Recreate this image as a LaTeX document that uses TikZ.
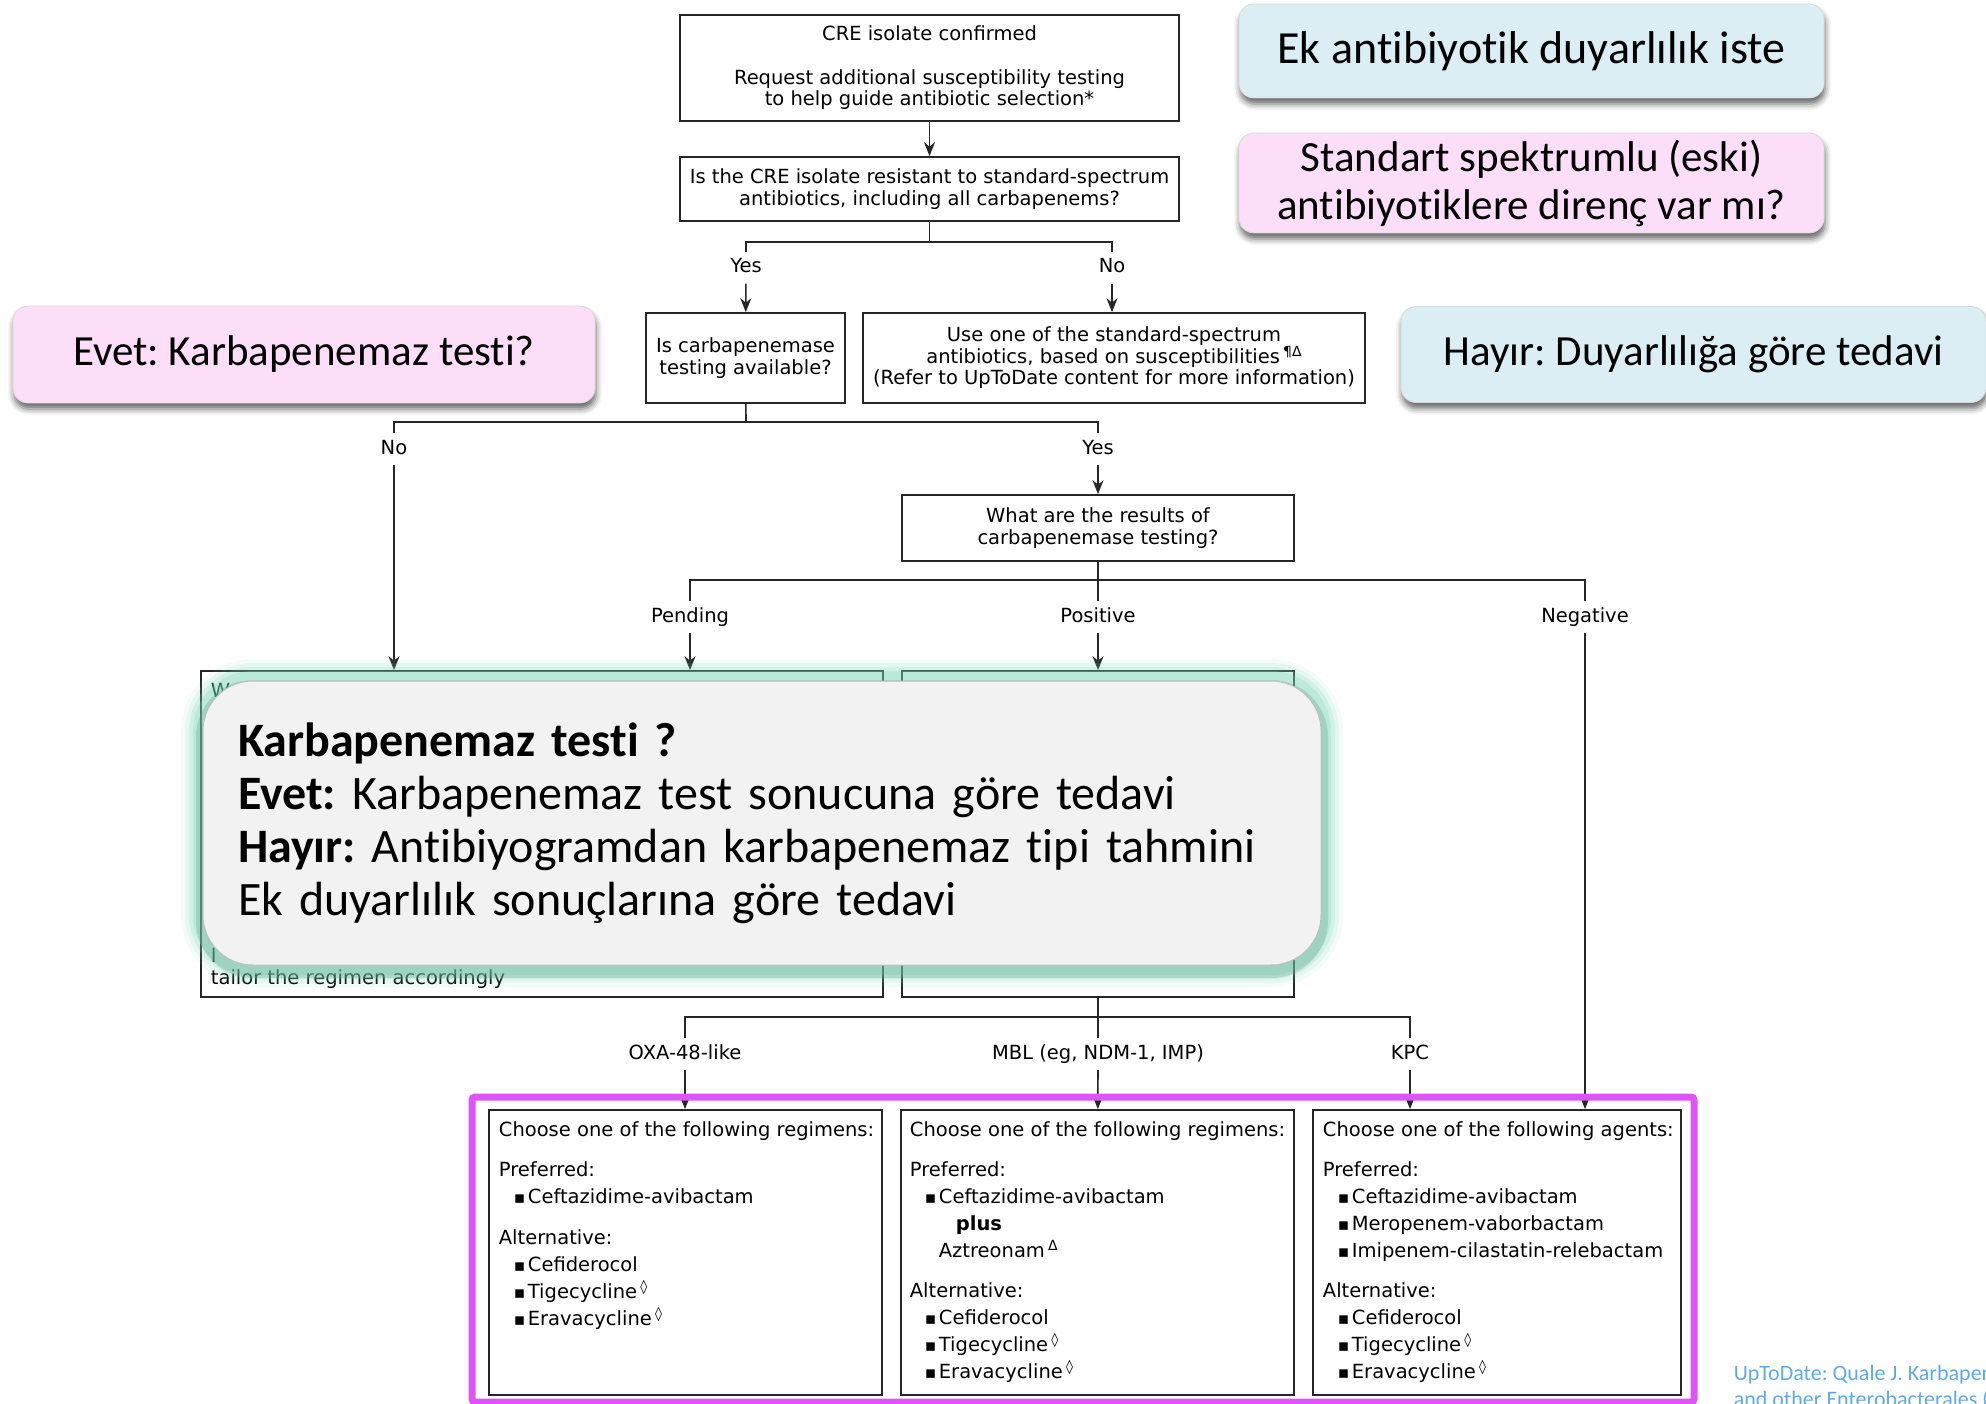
\documentclass[tikz,border=0pt]{standalone}
\usepackage{fontspec}
\setmainfont{DejaVu Sans}
\newfontfamily\calfont{Carlito}[Ligatures={NoCommon}]
\usetikzlibrary{arrows.meta,positioning,shadows.blur}
\definecolor{magline}{RGB}{222,84,250}
\definecolor{cblue}{RGB}{218,238,243}
\definecolor{cpink}{RGB}{253,222,248}
\definecolor{sumfill}{RGB}{242,242,242}
\definecolor{glowc}{RGB}{120,212,182}
\definecolor{footc}{RGB}{93,170,230}
\newcommand{\itm}[1]{\hspace*{15pt}\makebox[14pt][l]{\fontsize{17}{17}\selectfont▪}#1}
\newcommand{\upmark}[1]{\,\raisebox{7pt}{\fontsize{14}{14}\selectfont #1}}
\frenchspacing
\tikzset{every picture/.style={line width=1.5pt},
  fbox/.style={draw=black!85, line width=1.7pt, align=center, inner sep=0pt, font=\fontsize{19.5}{21.5}\selectfont},
  lbl/.style={inner sep=6pt, text height=14pt, text depth=4pt, font=\fontsize{19.5}{21}\selectfont},
  ln/.style={draw=black!85, line width=1.6pt},
  arr/.style={ln, -{Stealth[length=14pt, width=11pt]}},
  listtxt/.style={align=left, inner sep=0pt, font=\fontsize{19.5}{27}\selectfont},
  callout/.style={rounded corners=15pt, draw=black!15, line width=0.8pt, align=center, inner sep=0pt,
    blur shadow={shadow xshift=1pt, shadow yshift=-6pt, shadow blur radius=6pt, shadow opacity=60},
    font=\calfont\fontsize{43}{48}\selectfont},
  glowbox/.style={fill=sumfill, draw=black!25, line width=1pt, rounded corners=50pt,
    preaction={draw=glowc, line width=44pt, opacity=0.08},
    preaction={draw=glowc, line width=36pt, opacity=0.12},
    preaction={draw=glowc, line width=28pt, opacity=0.18},
    preaction={draw=glowc, line width=20pt, opacity=0.25},
    preaction={draw=glowc!75!black, line width=14pt, opacity=0.3, transform canvas={yshift=-6pt}}},
  foot/.style={align=left, inner sep=0pt, text=footc, font=\calfont\fontsize{22}{26}\selectfont}}

\begin{document}
\begin{tikzpicture}[x=1pt, y=-1pt]
    \useasboundingbox (0,0) rectangle (1986,1404);

    % 顶部流程框
    \node[fbox, minimum width=499pt, minimum height=106pt] (cre) at (929.5,68) {CRE isolate confirmed\\[22pt]Request additional susceptibility testing\\to help guide antibiotic selection*};
    \node[fbox, minimum width=499pt, minimum height=64pt] (resist) at (929.5,189) {Is the CRE isolate resistant to standard-spectrum\\antibiotics, including all carbapenems?};
    \draw[arr] (cre) -- (resist);

    % 是否耐药
    \coordinate (rj) at (929.5,242);
    \node[lbl] (yes1) at (746,268) {Yes};
    \node[lbl] (no1) at (1112,268) {No};
    \draw[ln] (resist) -- (rj);
    \draw[ln] (yes1) |- (rj) -| (no1);

    \node[fbox, minimum width=199pt, minimum height=90pt] (carb) at (745.5,358) {Is carbapenemase\\testing available?};
    \node[fbox, minimum width=502pt, minimum height=90pt] (use) at (1114,358) {Use one of the standard-spectrum\\antibiotics, based on susceptibilities\upmark{¶Δ}\\(Refer to UpToDate content for more information)};
    \draw[arr] (yes1) -- (carb);
    \draw[arr] (no1) -- (no1 |- use.north);

    % 碳青霉烯酶检测
    \coordinate (cj) at (746,422);
    \node[lbl] (no2) at (394,449) {No};
    \node[lbl] (yes2) at (1098,449) {Yes};
    \draw[ln] (carb) -- (cj);
    \draw[ln] (no2) |- (cj) -| (yes2);

    \node[fbox, minimum width=392pt, minimum height=66pt] (results) at (1098,528) {What are the results of\\carbapenemase testing?};
    \draw[arr] (yes2) -- (results);

    \coordinate (rsj) at (1098,580);
    \node[lbl] (pend) at (690,617) {Pending};
    \node[lbl] (pos) at (1098,617) {Positive};
    \node[lbl] (neg) at (1585,617) {Negative};
    \draw[ln] (results) -- (rsj);
    \draw[ln] (pend) |- (rsj) -| (neg);
    \draw[ln] (rsj) -- (pos);

    % 被遮住的方框
    \node[fbox, minimum width=682pt, minimum height=326pt] (lbox) at (542,834) {};
    \node[fbox, minimum width=392pt, minimum height=326pt] (mbox) at (1098,834) {};
    \node[listtxt, font=\fontsize{19.5}{22}\selectfont, below right=12pt and 10pt of lbox.north west] (lw) {W};
    \node[listtxt, font=\fontsize{19.5}{22}\selectfont, above right=9pt and 10pt of lbox.south west] (ltail) {I\\tailor the regimen accordingly};
    \draw[arr] (no2) -- (no2 |- lbox.north);
    \draw[arr] (pend) -- (pend |- lbox.north);
    \draw[arr] (pos) -- (mbox);

    % 酶的类型
    \coordinate (mj) at (1098,1017);
    \node[lbl] (oxa) at (685,1054) {OXA-48-like};
    \node[lbl] (mbl) at (1098,1054) {MBL (eg, NDM-1, IMP)};
    \node[lbl] (kpc) at (1410,1054) {KPC};
    \draw[ln] (mbox) -- (mj);
    \draw[ln] (oxa) |- (mj) -| (kpc);
    \draw[ln] (mj) -- (mbl);

    % 治疗方案
    \node[fbox, minimum width=393pt, minimum height=285pt] (oxabox) at (685.5,1252.5) {};
    \node[fbox, minimum width=393pt, minimum height=285pt] (mblbox) at (1097.5,1252.5) {};
    \node[fbox, minimum width=368pt, minimum height=285pt] (kpcbox) at (1497,1252.5) {};
    \node[listtxt, below right=12pt and 10pt of oxabox.north west] (oxatxt) {Choose one of the following regimens:\\[13pt]Preferred:\\\itm{Ceftazidime-avibactam}\\[14pt]Alternative:\\\itm{Cefiderocol}\\\itm{Tigecycline\upmark{◊}}\\\itm{Eravacycline\upmark{◊}}};
    \node[listtxt, below right=12pt and 9pt of mblbox.north west] (mbltxt) {Choose one of the following regimens:\\[13pt]Preferred:\\\itm{Ceftazidime-avibactam}\\\hspace*{46pt}\textbf{plus}\\\hspace*{29pt}Aztreonam\upmark{Δ}\\[13pt]Alternative:\\\itm{Cefiderocol}\\\itm{Tigecycline\upmark{◊}}\\\itm{Eravacycline\upmark{◊}}};
    \node[listtxt, below right=12pt and 10pt of kpcbox.north west] (kpctxt) {Choose one of the following agents:\\[13pt]Preferred:\\\itm{Ceftazidime-avibactam}\\\itm{Meropenem-vaborbactam}\\\itm{Imipenem-cilastatin-relebactam}\\[13pt]Alternative:\\\itm{Cefiderocol}\\\itm{Tigecycline\upmark{◊}}\\\itm{Eravacycline\upmark{◊}}};
    \draw[arr] (oxa) -- (oxa |- oxabox.north);
    \draw[arr] (mbl) -- (mblbox);
    \draw[arr] (kpc) -- (kpc |- kpcbox.north);
    \draw[arr] (neg) -- (neg |- kpcbox.north);
    \draw[magline, line width=7pt, rounded corners=3pt] (472,1097) rectangle (1694,1402);

    % 中间的说明框
    \node[glowbox, minimum width=1118pt, minimum height=284pt, text width=1048pt, align=left, inner xsep=35pt,
          font=\calfont\fontsize{48}{53}\selectfont] (summary) at (762,823)
        {\textbf{Karbapenemaz testi ?}\\\textbf{Evet:} Karbapenemaz test sonucuna göre tedavi\\\textbf{Hayır:} Antibiyogramdan karbapenemaz tipi tahmini\\Ek duyarlılık sonuçlarına göre tedavi};

    % 右侧和左侧的提示框
    \node[callout, fill=cblue, minimum width=585pt, minimum height=94pt, font=\calfont\fontsize{46}{50}\selectfont] (ek) at (1531.5,51) {Ek antibiyotik duyarlılık iste};
    \node[callout, fill=cpink, minimum width=585pt, minimum height=100pt] (stdq) at (1531.5,183) {Standart spektrumlu (eski)\\antibiyotiklere direnç var mı?};
    \node[callout, fill=cpink, minimum width=582pt, minimum height=97pt] (evet) at (304,354.5) {Evet: Karbapenemaz testi?};
    \node[callout, fill=cblue, minimum width=585pt, minimum height=96pt] (hayir) at (1693.5,354.5) {Hayır: Duyarlılığa göre tedavi};

    % 来源
    \node[foot, anchor=north west] (src) at (1733,1364) {UpToDate: Quale J. Karbapenem\\and other Enterobacterales (};
\end{tikzpicture}
\end{document}
